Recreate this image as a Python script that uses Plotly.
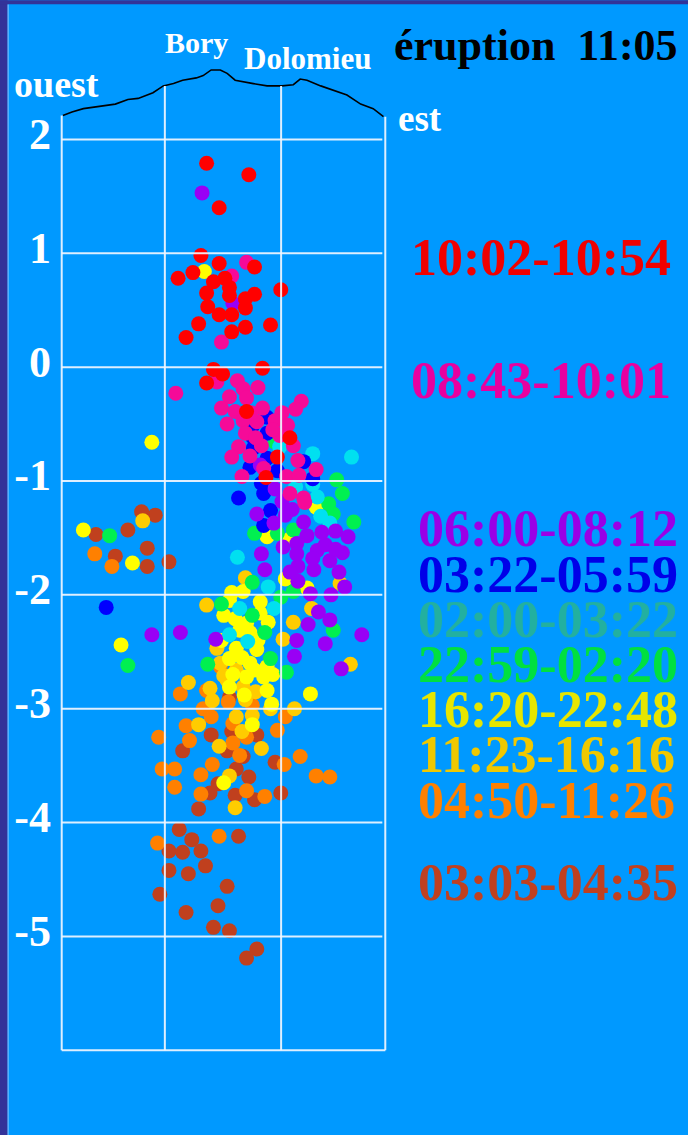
import plotly.graph_objects as go

# ---------------- data (x: km along W-E profile, y: altitude km) ----------------
brown_x = [0.70, 0.82, 0.30, 0.58, 0.75, 0.47, 0.75, 0.94, 1.47, 1.31, 1.71, 1.49, 1.06, 1.45, 1.59, 1.87,
           1.53, 1.64, 1.37, 1.30, 1.52, 1.69, 1.92, 1.20, 1.03, 1.55, 1.14, 0.94, 1.06, 1.22, 1.26, 0.94,
           1.11, 1.45, 0.86, 1.37, 1.09, 1.33, 1.47, 1.71, 1.62]
brown_y = [-1.27, -1.30, -1.47, -1.43, -1.59, -1.66, -1.75, -1.71, -2.90, -3.23, -3.23, -3.20, -3.37, -3.37,
           -3.42, -3.47, -3.53, -3.60, -3.66, -3.74, -3.76, -3.80, -3.74, -3.88, -4.06, -4.12, -4.15, -4.25,
           -4.26, -4.25, -4.38, -4.42, -4.45, -4.56, -4.63, -4.73, -4.79, -4.92, -4.95, -5.11, -5.19]

orange_x = [0.29, 0.44, 1.39, 1.27, 1.04, 1.46, 1.24, 1.67, 1.96, 1.31, 1.09, 1.50, 0.85, 1.89, 1.12, 1.62,
            1.50, 1.56, 2.09, 1.95, 1.32, 0.88, 0.99, 1.22, 2.23, 2.35, 0.99, 1.62, 1.22, 1.78, 1.38, 0.84]
orange_y = [-1.64, -1.75, -2.63, -2.84, -2.87, -2.94, -3.00, -2.97, -3.07, -3.07, -3.15, -3.13, -3.25, -3.19,
            -3.28, -3.25, -3.30, -3.41, -3.42, -3.49, -3.49, -3.53, -3.53, -3.58, -3.59, -3.60, -3.69, -3.72,
            -3.75, -3.77, -4.12, -4.18]

gold_x = [0.71, 1.61, 2.44, 1.27, 2.03, 2.19, 1.94, 1.36, 2.53, 1.42, 1.11, 1.59, 1.39, 1.53, 1.32, 1.61,
          2.04, 1.53, 1.67, 1.20, 1.58, 1.38, 1.75, 1.47, 1.52, 1.45, 1.30, 1.70, 1.83]
gold_y = [-1.35, -1.85, -1.90, -2.09, -2.24, -2.12, -2.39, -2.47, -2.61, -2.71, -2.77, -2.81, -2.60, -2.66,
          -2.93, -2.92, -3.00, -3.07, -3.06, -3.14, -3.20, -3.33, -3.35, -3.59, -3.87, -2.75, -2.82, -2.85,
          -3.00]

yellow_x = [1.25, 0.79, 2.23, 1.80, 2.00, 0.19, 0.62, 1.96, 1.49, 1.59, 2.15, 1.47, 1.74, 1.42, 1.81, 1.74,
            1.65, 1.56, 0.52, 1.53, 1.71, 1.47, 1.65, 1.77, 1.62, 1.69, 1.80, 1.47, 1.80, 2.18, 1.84, 1.67,
            1.42, 1.52, 1.58, 1.72, 1.50, 1.60, 1.85, 1.40, 1.62]
yellow_y = [0.84, -0.66, -1.23, -1.49, -1.51, -1.43, -1.72, -1.86, -1.98, -1.97, -1.94, -2.05, -2.06, -2.18,
            -2.24, -2.16, -2.33, -2.31, -2.44, -2.47, -2.48, -2.56, -2.60, -2.72, -2.72, -2.66, -2.63, -2.81,
            -2.84, -2.87, -2.96, -3.14, -3.65, -2.21, -2.55, -2.40, -2.70, -2.88, -2.70, -2.40, -2.25]

green_x = [1.87, 2.41, 2.46, 2.34, 2.38, 2.56, 1.69, 1.89, 2.03, 0.42, 1.67, 1.92, 2.03, 1.40, 1.67, 2.38,
           1.78, 0.58, 1.28, 1.83, 1.97]
green_y = [-0.66, -0.99, -1.11, -1.20, -1.29, -1.36, -1.46, -1.46, -1.43, -1.48, -1.89, -2.02, -1.97, -2.08,
           -2.18, -2.31, -2.33, -2.62, -2.61, -2.56, -2.68]

cyan_x = [1.91, 2.20, 2.54, 2.20, 2.05, 2.24, 2.27, 2.35, 1.54, 1.81, 1.56, 1.86, 1.47, 1.63]
cyan_y = [-0.70, -0.76, -0.79, -1.03, -1.05, -1.14, -1.31, -1.37, -1.67, -1.93, -2.12, -2.12, -2.35, -2.41]

blue_x = [1.80, 1.67, 1.80, 1.67, 1.68, 1.80, 2.12, 1.65, 1.89, 2.20, 1.75, 1.55, 1.77, 1.83, 1.77, 0.39]
blue_y = [-0.44, -0.52, -0.58, -0.61, -0.71, -0.80, -0.83, -0.88, -0.91, -0.98, -1.02, -1.15, -1.11, -1.26,
          -1.39, -2.11]

purple_x = [1.23, 1.50, 1.74, 1.87, 1.93, 1.71, 2.02, 1.96, 2.12, 1.86, 2.15, 2.40, 2.51, 1.94, 2.06, 2.24,
            2.31, 2.46, 2.35, 2.43, 2.21, 2.07, 2.00, 2.07, 2.18, 2.36, 2.48, 1.75, 1.78, 2.06, 2.25, 2.35,
            2.16, 0.79, 1.04, 1.35, 2.06, 2.31, 2.63, 2.04, 2.45, 2.28, 2.20, 2.40]
purple_y = [1.53, 0.56, -0.86, -1.07, -1.18, -1.29, -1.25, -1.30, -1.36, -1.37, -1.48, -1.44, -1.49, -1.58,
            -1.55, -1.61, -1.56, -1.63, -1.70, -1.80, -1.78, -1.75, -1.80, -1.88, -1.99, -2.00, -1.93, -1.64,
            -1.78, -1.64, -2.15, -2.22, -2.26, -2.35, -2.33, -2.39, -2.40, -2.43, -2.35, -2.54, -2.65, -1.45,
            -1.68, -1.60]

magenta_x = [1.49, 1.62, 1.40, 1.36, 1.00, 1.54, 1.72, 1.59, 1.47, 1.62, 2.10, 2.05, 1.40, 1.76, 1.93, 1.52,
             1.87, 1.98, 1.59, 1.71, 1.61, 1.91, 2.03, 1.55, 1.75, 1.49, 1.65, 2.07, 1.77, 2.23, 1.58, 1.97,
             2.08, 2.00, 2.12, 2.13, 1.66, 1.85, 1.70, 1.45]
magenta_y = [0.80, 0.92, 0.22, -0.13, -0.23, -0.12, -0.18, -0.19, -0.26, -0.27, -0.30, -0.37, -0.36, -0.36,
             -0.40, -0.39, -0.47, -0.51, -0.47, -0.48, -0.58, -0.60, -0.69, -0.70, -0.69, -0.79, -0.78, -0.82,
             -0.89, -0.90, -0.96, -0.96, -0.95, -1.11, -1.15, -1.19, -0.40, -0.55, -0.62, -0.50]

red_x = [1.27, 1.64, 1.38, 1.22, 1.38, 1.69, 1.15, 1.02, 1.43, 1.33, 1.47, 1.27, 1.47, 1.69, 1.61, 1.92,
         1.28, 1.61, 1.38, 1.49, 1.20, 1.61, 1.83, 1.49, 1.09, 1.33, 1.76, 1.41, 1.27, 1.62, 2.00, 1.89, 1.79]
red_y = [1.79, 1.69, 1.40, 0.98, 0.91, 0.88, 0.83, 0.78, 0.78, 0.75, 0.70, 0.65, 0.63, 0.64, 0.60, 0.68,
         0.53, 0.52, 0.46, 0.46, 0.38, 0.35, 0.37, 0.31, 0.26, -0.02, -0.01, -0.06, -0.14, -0.39, -0.62,
         -0.79, -0.97]

# topographic profile (summit line)
profile_x = [0.01, 0.09, 0.19, 0.33, 0.47, 0.58, 0.67, 0.80, 0.89, 0.98, 1.06, 1.18, 1.24, 1.31, 1.39,
             1.45, 1.52, 1.68, 1.80, 1.93, 2.03, 2.09, 2.15, 2.27, 2.38, 2.50, 2.62, 2.73, 2.82]
profile_y = [2.21, 2.24, 2.27, 2.29, 2.31, 2.35, 2.36, 2.41, 2.47, 2.49, 2.52, 2.54, 2.56, 2.61, 2.61,
             2.58, 2.52, 2.49, 2.47, 2.47, 2.48, 2.53, 2.52, 2.47, 2.43, 2.39, 2.31, 2.27, 2.20]

# legend labels (time ranges), newest first
periods = ["10:02-10:54", "08:43-10:01", "06:00-08:12", "03:22-05:59", "02:00-03:22",
           "22:59-02:20", "16:20-22:48", "11:23-16:16", "04:50-11:26", "03:03-04:35"]
dot_colors = ["#ff0000", "#f50a98", "#9900f5", "#0000ff", "#00e0f0",
              "#00f050", "#ffff00", "#ffcc00", "#ff8000", "#c0401e"]
text_colors = ["#f00000", "#e800a0", "#9a00e6", "#0000e8", "#22b0a0",
               "#00e040", "#e6e600", "#f0c800", "#ff8000", "#c04020"]
series_x = [red_x, magenta_x, purple_x, blue_x, cyan_x, green_x, yellow_x, gold_x, orange_x, brown_x]
series_y = [red_y, magenta_y, purple_y, blue_y, cyan_y, green_y, yellow_y, gold_y, orange_y, brown_y]

y_ticks = [2, 1, 0, -1, -2, -3, -4, -5]
y_tick_text = ["2", "1", "0", "-1", "-2", "-3", "-4", "-5"]

# ---------------- layout geometry ----------------
W, H = 688, 1135
SC = 113.9                 # px per km
X0, X1 = -0.05, 2.886      # x range
Y0, Y1 = -6.05, 2.75       # y range
L = 62 + X0 * SC
PW = (X1 - X0) * SC
T = 139.2 - (Y1 - 2) * SC
PH = (Y1 - Y0) * SC
R = W - L - PW
B = H - T - PH
X_RIGHT = 2.836
X_GRID = [0.904, 1.923]

BG = "#0099ff"
GRID = "rgba(240,246,255,0.92)"
SERIF = "Liberation Serif, Times New Roman, serif"


def pxx(p):
    return (p - L) / PW


def pxy(p):
    return 1 - (p - T) / PH


fig = go.Figure()

# oldest first so newest are drawn on top
for xs, ys, col in reversed(list(zip(series_x, series_y, dot_colors))):
    fig.add_trace(go.Scatter(x=xs, y=ys, mode="markers",
                             marker=dict(size=15, color=col, line=dict(width=0)),
                             showlegend=False, hoverinfo="skip"))

fig.add_trace(go.Scatter(x=profile_x, y=profile_y, mode="lines",
                         line=dict(color="black", width=1.6),
                         showlegend=False, hoverinfo="skip"))

shapes = []
line_style = dict(color=GRID, width=2)
for v in y_ticks:
    shapes.append(dict(type="line", xref="x", yref="y", x0=0, x1=2.81, y0=v, y1=v, line=line_style))
shapes.append(dict(type="line", xref="x", yref="y", x0=0, x1=X_RIGHT, y0=-6, y1=-6, line=line_style))
shapes.append(dict(type="line", xref="x", yref="y", x0=0, x1=0, y0=-6, y1=2.21, line=line_style))
shapes.append(dict(type="line", xref="x", yref="y", x0=X_RIGHT, x1=X_RIGHT, y0=-6, y1=2.20, line=line_style))
for gx in X_GRID:
    shapes.append(dict(type="line", xref="x", yref="y", x0=gx, x1=gx, y0=-6, y1=2.47, line=line_style))

# frame strips of the original slide
shapes.append(dict(type="rect", xref="paper", yref="paper", x0=pxx(0), x1=pxx(8), y0=pxy(H), y1=pxy(0),
                   fillcolor="#333399", line=dict(width=0), layer="above"))
shapes.append(dict(type="line", xref="paper", yref="paper", x0=pxx(8.5), x1=pxx(8.5), y0=pxy(H), y1=pxy(4),
                   line=dict(color="#8cc4ff", width=1), layer="above"))
shapes.append(dict(type="rect", xref="paper", yref="paper", x0=pxx(0), x1=pxx(W), y0=pxy(4), y1=pxy(0),
                   fillcolor="#333399", line=dict(width=0), layer="above"))

annotations = []


def add_text(txt, xp, yp, size, color, anchor="left"):
    annotations.append(dict(text="<b>" + txt + "</b>", x=pxx(xp), y=pxy(yp), xref="paper", yref="paper",
                            xanchor=anchor, yanchor="middle", showarrow=False,
                            font=dict(family=SERIF, size=size, color=color)))


add_text("ouest", 12, 84, 38, "white")
add_text("Bory", 163, 42, 30, "white")
add_text("Dolomieu", 242, 58, 31, "white")
add_text("est", 396, 118, 37, "white")
add_text("éruption&nbsp;&nbsp;11:05", 392, 45, 44, "black")

label_y = [257, 380, 528, 574, 619, 664, 709, 754, 801, 883]
label_x = [409, 409, 416, 416, 416, 416, 416, 416, 416, 416]
for txt, col, lx, ly in zip(periods, text_colors, label_x, label_y):
    add_text(txt, lx, ly, 52, col)

fig.update_layout(
    width=W, height=H,
    margin=dict(l=round(L), r=round(R), t=round(T), b=round(B), pad=0),
    paper_bgcolor=BG, plot_bgcolor=BG,
    xaxis=dict(range=[X0, X1], visible=False, showgrid=False, zeroline=False),
    yaxis=dict(range=[Y0, Y1], tickvals=y_ticks, ticktext=y_tick_text, showgrid=False, zeroline=False,
               showline=False, ticks="", ticklabelstandoff=4, ticklabelshift=-6,
               tickfont=dict(family=SERIF, size=44, color="white", weight="bold")),
    shapes=shapes, annotations=annotations,
    showlegend=False,
)

fig.write_html("out.html", config={"displayModeBar": False},
               post_script="document.body.style.margin='0';document.body.style.background='" + BG + "';")
